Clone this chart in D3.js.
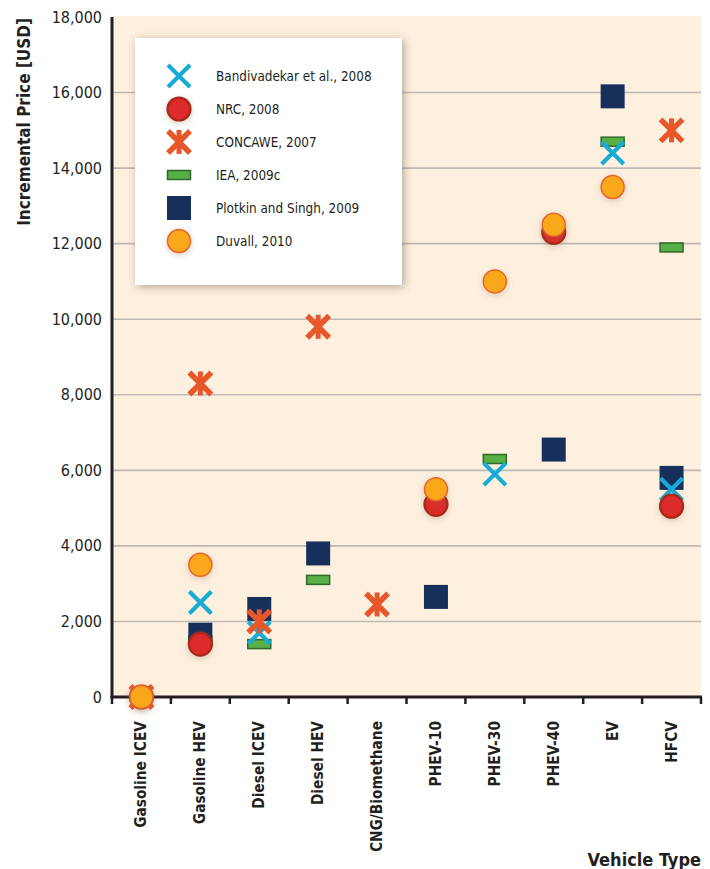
<!DOCTYPE html>
<html><head><meta charset="utf-8">
<script src="https://cdn.jsdelivr.net/npm/d3@7"></script>
<style>
body{margin:0;background:#fff;}
svg{display:block;}
text{font-family:"Liberation Sans Narrow","DejaVu Sans Condensed","Open Sans",sans-serif;fill:#231f20;}
</style></head>
<body>
<svg id="chart" width="710" height="869"></svg>
<script>
const categories = ["Gasoline ICEV","Gasoline HEV","Diesel ICEV","Diesel HEV","CNG/Biomethane","PHEV-10","PHEV-30","PHEV-40","EV","HFCV"];
const yTicks = [0,2000,4000,6000,8000,10000,12000,14000,16000,18000];
// values per category (null = no estimate)
const iea2009c      = [null, 1500, 1400, 3100, null, null, 6300, null, 14700, 11900];
const plotkinSingh  = [null, 1650, 2330, 3800, null, 2650, null, 6550, 15900, 5800];
const bandivadekar  = [null, 2500, 1700, null, null, null, 5900, null, 14400, 5500];
const nrc2008       = [0, 1400, null, null, null, 5100, null, 12300, null, 5050];
const concawe2007   = [0, 8300, 2000, 9800, 2450, null, null, null, null, 15000];
const duvall2010    = [0, 3500, null, null, null, 5500, 11000, 12500, 13500, null];

const seriesNames = ["Bandivadekar et al., 2008","NRC, 2008","CONCAWE, 2007","IEA, 2009c","Plotkin and Singh, 2009","Duvall, 2010"];
const seriesValues = [bandivadekar, nrc2008, concawe2007, iea2009c, plotkinSingh, duvall2010];
const seriesShapes = ["cross","nrc","asterisk","bar","square","duvall"];
const drawOrder = [3,4,0,1,2,5];

const svg = d3.select("#chart");
const defs = svg.append("defs");
const f1 = defs.append("filter").attr("id","boxShadow").attr("x","-20%").attr("y","-20%").attr("width","140%").attr("height","140%");
f1.append("feDropShadow").attr("dx",2).attr("dy",2).attr("stdDeviation",4).attr("flood-color","#5a4a38").attr("flood-opacity",0.45);
const f2 = defs.append("filter").attr("id","dotShadow").attr("x","-60%").attr("y","-60%").attr("width","220%").attr("height","220%");
f2.append("feDropShadow").attr("dx",0).attr("dy",2).attr("stdDeviation",3).attr("flood-color","#8a6a40").attr("flood-opacity",0.3);

const pLeft = 112, pRight = 701, pTop = 17, pBottom = 697;
const x = d3.scaleBand().domain(categories).range([pLeft, pRight]);
const y = d3.scaleLinear().domain([0,18000]).range([pBottom, pTop]);

// background
svg.append("rect").attr("x",pLeft).attr("y",pTop-1).attr("width",pRight-pLeft).attr("height",pBottom-pTop+1).attr("fill","#fdf0df");

// gridlines
svg.append("g").selectAll("line").data(yTicks.filter(d=>d>0 && d<18000)).join("line")
  .attr("x1",pLeft).attr("x2",pRight).attr("y1",d=>y(d)).attr("y2",d=>y(d))
  .attr("stroke","#bdb9b4").attr("stroke-width",1.6);

// y tick labels
svg.append("g").selectAll("text").data(yTicks).join("text")
  .attr("x",102).attr("y",d=>y(d)).attr("dy","0.35em").attr("text-anchor","end")
  .attr("font-size",16).text(d=>d3.format(",")(d));

// y axis label
svg.append("text").attr("transform",`translate(30,${pTop+1}) rotate(-90)`).attr("text-anchor","end")
  .attr("font-size",17).attr("font-weight","bold").text("Incremental Price [USD]");

// x ticks
const tickPos = categories.map(c=>x(c)).concat([pRight]);
svg.append("g").selectAll("line").data(tickPos).join("line")
  .attr("x1",d=>d).attr("x2",d=>d).attr("y1",pBottom).attr("y2",pBottom+7)
  .attr("stroke","#231f20").attr("stroke-width",2.5);

// axes lines
svg.append("line").attr("x1",pLeft).attr("x2",pLeft).attr("y1",pTop).attr("y2",pBottom+1.5).attr("stroke","#231f20").attr("stroke-width",3);
svg.append("line").attr("x1",pLeft-1.5).attr("x2",pRight+1).attr("y1",pBottom).attr("y2",pBottom).attr("stroke","#231f20").attr("stroke-width",3);

// category labels
svg.append("g").selectAll("text").data(categories).join("text")
  .attr("transform",d=>`translate(${x(d)+x.bandwidth()/2+5},721) rotate(-90)`)
  .attr("text-anchor","end").attr("font-size",15.3).attr("font-weight","bold").text(d=>d);

svg.append("text").attr("x",701).attr("y",866).attr("text-anchor","end")
  .attr("font-size",18).attr("font-weight","bold").text("Vehicle Type");

function drawMarker(g, shape){
  if(shape==="cross"){
    g.append("path").attr("d","M-11,-11L11,11M-11,11L11,-11").attr("stroke","#17acd5").attr("stroke-width",4.2).attr("fill","none");
  } else if(shape==="asterisk"){
    g.append("path").attr("d","M-11,-11L11,11M-11,11L11,-11").attr("stroke","#e8572a").attr("stroke-width",5.5).attr("fill","none");
    g.append("path").attr("d","M0,-12L0,12").attr("stroke","#e8572a").attr("stroke-width",5).attr("fill","none");
  } else if(shape==="bar"){
    g.append("rect").attr("x",-11.5).attr("y",-4.5).attr("width",23).attr("height",9).attr("fill","#58ae47").attr("stroke","#2f6a2a").attr("stroke-width",1.5);
  } else if(shape==="square"){
    g.append("rect").attr("x",-12).attr("y",-12).attr("width",24).attr("height",24).attr("fill","#172f5b");
  } else if(shape==="nrc"){
    g.append("circle").attr("r",11.5).attr("fill","#dd2a29").attr("stroke","#a5291f").attr("stroke-width",2.2).attr("filter","url(#dotShadow)");
  } else if(shape==="duvall"){
    g.append("circle").attr("r",11.5).attr("fill","#f9a81f").attr("stroke","#e8652b").attr("stroke-width",1.5).attr("filter","url(#dotShadow)");
  }
}

// data markers
const marks = svg.append("g");
drawOrder.forEach(si=>{
  const vals = seriesValues[si];
  categories.forEach((c,i)=>{
    const v = vals[i];
    if(v===null || v===undefined) return;
    const g = marks.append("g").attr("transform",`translate(${x(c)+x.bandwidth()/2},${y(v)})`);
    drawMarker(g, seriesShapes[si]);
  });
});

// legend
const lg = svg.append("g");
lg.append("rect").attr("x",135).attr("y",38).attr("width",267).attr("height",247).attr("fill","#fff").attr("filter","url(#boxShadow)");
seriesNames.forEach((n,i)=>{
  const yy = 76 + i*33;
  const g = lg.append("g").attr("transform",`translate(179,${yy})`);
  drawMarker(g, seriesShapes[i]);
  lg.append("text").attr("x",216).attr("y",yy).attr("dy","0.35em").attr("font-size",13.4).text(n);
});
</script>
</body></html>
